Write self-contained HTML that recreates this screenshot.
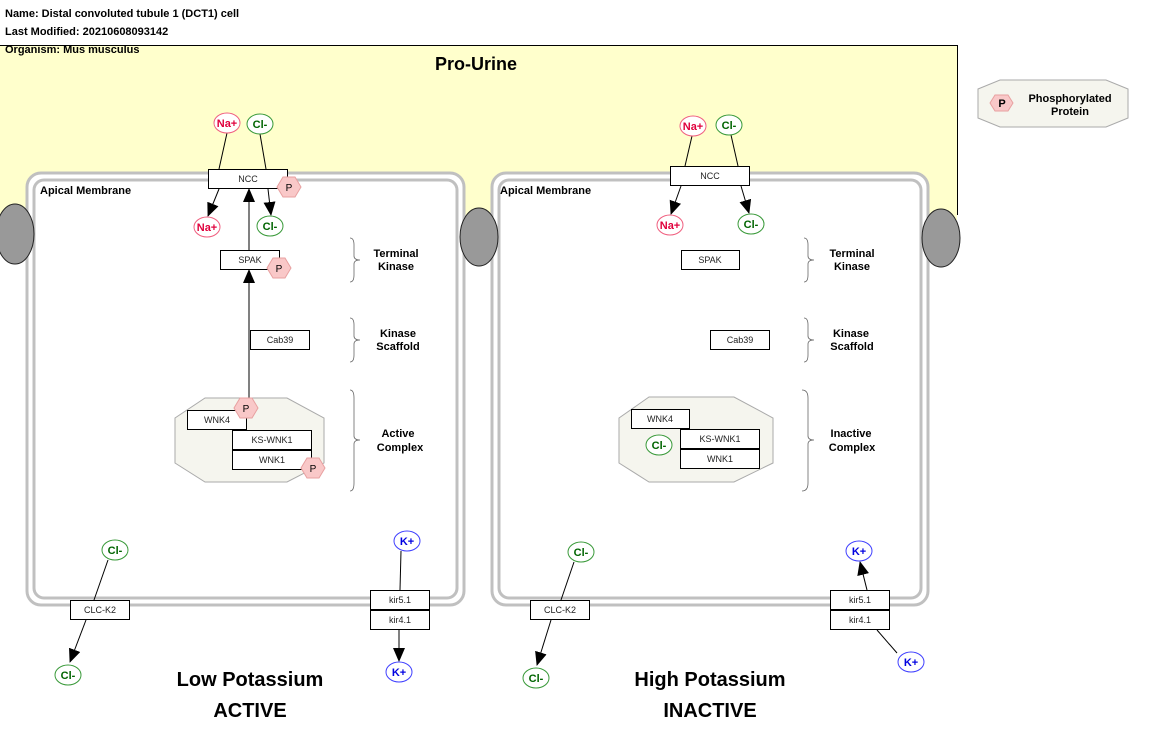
<!DOCTYPE html>
<html><head><meta charset="utf-8"><style>
html,body{margin:0;padding:0;background:#fff;}
svg{display:block;font-family:"Liberation Sans",sans-serif;}
.b{fill:#fff;stroke:#000;stroke-width:1}
.bt{font-size:9px;text-anchor:middle;fill:#222}
.lbl{font-size:11px;font-weight:bold;text-anchor:middle;fill:#000}
.na{fill:#fff;stroke:#f06080;stroke-width:1}
.nat{font-size:11px;font-weight:bold;fill:#e0003c;text-anchor:middle}
.cl{fill:#fff;stroke:#3a9a3a;stroke-width:1}
.clt{font-size:11px;font-weight:bold;fill:#006400;text-anchor:middle}
.k{fill:#fff;stroke:#4040ff;stroke-width:1}
.kt{font-size:11px;font-weight:bold;fill:#0000e0;text-anchor:middle}
.ph{fill:#f9c8c8;stroke:#e8a0a0;stroke-width:1}
.pt{font-size:10px;text-anchor:middle;fill:#000}
.ln{stroke:#000;stroke-width:1;fill:none}
.br{stroke:#666;stroke-width:0.8;fill:none}
</style></head><body>
<svg width="1159" height="753" viewBox="0 0 1159 753" xmlns="http://www.w3.org/2000/svg">
<defs>
<marker id="ar2" markerWidth="14" markerHeight="12" refX="13" refY="6" orient="auto" markerUnits="userSpaceOnUse">
<path d="M0,0 L14,6 L0,12 z" fill="#000"/></marker>
</defs>
<text x="5" y="17" font-size="11" font-weight="bold">Name: Distal convoluted tubule 1 (DCT1) cell</text>
<text x="5" y="35" font-size="11" font-weight="bold">Last Modified: 20210608093142</text>
<rect x="0" y="45" width="957" height="175" fill="#ffffcc"/>
<line x1="0" y1="45.5" x2="957" y2="45.5" stroke="#000"/>
<line x1="957.5" y1="45" x2="957.5" y2="215" stroke="#000"/>
<text x="5" y="53" font-size="11" font-weight="bold">Organism: Mus musculus</text>
<text x="476" y="70" font-size="18" font-weight="bold" text-anchor="middle">Pro-Urine</text>

<rect x="27" y="173" width="437" height="432" rx="14" fill="#fff" stroke="#c0c0c0" stroke-width="3"/>
<rect x="34" y="180" width="423" height="418" rx="10" fill="none" stroke="#c0c0c0" stroke-width="3"/>
<rect x="492" y="173" width="436" height="432" rx="14" fill="#fff" stroke="#c0c0c0" stroke-width="3"/>
<rect x="499" y="180" width="422" height="418" rx="10" fill="none" stroke="#c0c0c0" stroke-width="3"/>
<ellipse cx="15" cy="234" rx="19" ry="30" fill="#999" stroke="#222"/>
<ellipse cx="479" cy="237" rx="19" ry="29" fill="#999" stroke="#222"/>
<ellipse cx="941" cy="238" rx="19" ry="29" fill="#999" stroke="#222"/>
<text x="40" y="194" font-size="11" font-weight="bold">Apical Membrane</text>
<text x="500" y="194" font-size="11" font-weight="bold">Apical Membrane</text>

<polygon points="1000,80 1106,80 1128,89 1128,118 1106,127 1000,127 978,118 978,89" fill="#f5f5ee" stroke="#aaa"/>
<polygon points="990,103 995,95 1008,95 1013,103 1008,111 995,111" class="ph"/>
<text x="1002" y="107" font-size="11" font-weight="bold" text-anchor="middle">P</text>
<text x="1070" y="102" class="lbl">Phosphorylated</text>
<text x="1070" y="115" class="lbl">Protein</text>

<line x1="227" y1="133" x2="219" y2="169" class="ln"/>
<line x1="260" y1="134" x2="266" y2="169" class="ln"/>
<ellipse cx="227" cy="123" rx="13" ry="10" class="na"/><text x="227" y="127" class="nat">Na+</text>
<ellipse cx="260" cy="124" rx="13" ry="10" class="cl"/><text x="260" y="128" class="clt">Cl-</text>
<rect x="208.5" y="169.5" width="79" height="19" class="b"/><text x="248" y="182" class="bt">NCC</text>
<polygon points="277,187 283,177 295,177 301,187 295,197 283,197" class="ph"/><text x="289" y="191" class="pt">P</text>
<line x1="219" y1="189" x2="208" y2="216" class="ln" marker-end="url(#ar2)"/>
<line x1="268" y1="189" x2="271" y2="215" class="ln" marker-end="url(#ar2)"/>
<ellipse cx="207" cy="227" rx="13" ry="10" class="na"/><text x="207" y="231" class="nat">Na+</text>
<ellipse cx="270" cy="226" rx="13" ry="10" class="cl"/><text x="270" y="230" class="clt">Cl-</text>
<line x1="249" y1="250" x2="249" y2="189" class="ln" marker-end="url(#ar2)"/>
<rect x="220.5" y="250.5" width="59" height="19" class="b"/><text x="250" y="263" class="bt">SPAK</text>
<polygon points="267,268 273,258 285,258 291,268 285,278 273,278" class="ph"/><text x="279" y="272" class="pt">P</text>
<line x1="249" y1="400" x2="249" y2="270" class="ln" marker-end="url(#ar2)"/>
<rect x="250.5" y="330.5" width="59" height="19" class="b"/><text x="280" y="343" class="bt">Cab39</text>
<polygon points="205,398 287,398 324,418 324,463 287,482 205,482 175,463 175,418" fill="#f5f5ee" stroke="#aaa"/>
<rect x="187.5" y="410.5" width="59" height="19" class="b"/><text x="217" y="423" class="bt">WNK4</text>
<polygon points="234,408 240,398 252,398 258,408 252,418 240,418" class="ph"/><text x="246" y="412" class="pt">P</text>
<rect x="232.5" y="430.5" width="79" height="19" class="b"/><text x="272" y="443" class="bt">KS-WNK1</text>
<rect x="232.5" y="450.5" width="79" height="19" class="b"/><text x="272" y="463" class="bt">WNK1</text>
<polygon points="301,468 307,458 319,458 325,468 319,478 307,478" class="ph"/><text x="313" y="472" class="pt">P</text>
<path class="br" d="M350,238 Q354,238 354,245 L354,256 Q354,260 360,260 Q354,260 354,264 L354,275 Q354,282 350,282"/>
<path class="br" d="M350,318 Q354,318 354,325 L354,336 Q354,340 360,340 Q354,340 354,344 L354,355 Q354,362 350,362"/>
<path class="br" d="M350,390 Q354,390 354,398 L354,436 Q354,440 360,440 Q354,440 354,444 L354,483 Q354,491 350,491"/>
<text x="396" y="257" class="lbl">Terminal</text><text x="396" y="270" class="lbl">Kinase</text>
<text x="398" y="337" class="lbl">Kinase</text><text x="398" y="350" class="lbl">Scaffold</text>
<text x="398" y="437" class="lbl">Active</text><text x="400" y="451" class="lbl">Complex</text>
<line x1="108" y1="560" x2="94" y2="600" class="ln"/>
<line x1="86" y1="620" x2="70" y2="662" class="ln" marker-end="url(#ar2)"/>
<ellipse cx="115" cy="550" rx="13" ry="10" class="cl"/><text x="115" y="554" class="clt">Cl-</text>
<rect x="70.5" y="600.5" width="59" height="19" class="b"/><text x="100" y="613" class="bt">CLC-K2</text>
<ellipse cx="68" cy="675" rx="13" ry="10" class="cl"/><text x="68" y="679" class="clt">Cl-</text>
<line x1="401" y1="551" x2="400" y2="590" class="ln"/>
<line x1="399" y1="630" x2="399" y2="661" class="ln" marker-end="url(#ar2)"/>
<ellipse cx="407" cy="541" rx="13" ry="10" class="k"/><text x="407" y="545" class="kt">K+</text>
<rect x="370.5" y="590.5" width="59" height="19" class="b"/><text x="400" y="603" class="bt">kir5.1</text>
<rect x="370.5" y="610.5" width="59" height="19" class="b"/><text x="400" y="623" class="bt">kir4.1</text>
<ellipse cx="399" cy="672" rx="13" ry="10" class="k"/><text x="399" y="676" class="kt">K+</text>
<text x="250" y="686" font-size="20" font-weight="bold" text-anchor="middle">Low Potassium</text>
<text x="250" y="717" font-size="20" font-weight="bold" text-anchor="middle">ACTIVE</text>

<line x1="692" y1="136" x2="685" y2="166" class="ln"/>
<line x1="731" y1="135" x2="738" y2="166" class="ln"/>
<ellipse cx="693" cy="126" rx="13" ry="10" class="na"/><text x="693" y="130" class="nat">Na+</text>
<ellipse cx="729" cy="125" rx="13" ry="10" class="cl"/><text x="729" y="129" class="clt">Cl-</text>
<rect x="670.5" y="166.5" width="79" height="19" class="b"/><text x="710" y="179" class="bt">NCC</text>
<line x1="681" y1="186" x2="671" y2="214" class="ln" marker-end="url(#ar2)"/>
<line x1="741" y1="186" x2="749" y2="213" class="ln" marker-end="url(#ar2)"/>
<ellipse cx="670" cy="225" rx="13" ry="10" class="na"/><text x="670" y="229" class="nat">Na+</text>
<ellipse cx="751" cy="224" rx="13" ry="10" class="cl"/><text x="751" y="228" class="clt">Cl-</text>
<rect x="681.5" y="250.5" width="58" height="19" class="b"/><text x="710" y="263" class="bt">SPAK</text>
<rect x="710.5" y="330.5" width="59" height="19" class="b"/><text x="740" y="343" class="bt">Cab39</text>
<polygon points="649,397 734,397 773,418 773,463 734,482 649,482 619,463 619,418" fill="#f5f5ee" stroke="#aaa"/>
<rect x="631.5" y="409.5" width="58" height="19" class="b"/><text x="660" y="422" class="bt">WNK4</text>
<ellipse cx="659" cy="445" rx="13" ry="10" class="cl"/><text x="659" y="449" class="clt">Cl-</text>
<rect x="680.5" y="429.5" width="79" height="19" class="b"/><text x="720" y="442" class="bt">KS-WNK1</text>
<rect x="680.5" y="449.5" width="79" height="19" class="b"/><text x="720" y="462" class="bt">WNK1</text>
<path class="br" d="M804,238 Q808,238 808,245 L808,256 Q808,260 814,260 Q808,260 808,264 L808,275 Q808,282 804,282"/>
<path class="br" d="M804,318 Q808,318 808,325 L808,336 Q808,340 814,340 Q808,340 808,344 L808,355 Q808,362 804,362"/>
<path class="br" d="M802,390 Q808,390 808,398 L808,436 Q808,440 814,440 Q808,440 808,444 L808,483 Q808,491 802,491"/>
<text x="852" y="257" class="lbl">Terminal</text><text x="852" y="270" class="lbl">Kinase</text>
<text x="851" y="337" class="lbl">Kinase</text><text x="852" y="350" class="lbl">Scaffold</text>
<text x="851" y="437" class="lbl">Inactive</text><text x="852" y="451" class="lbl">Complex</text>
<line x1="574" y1="562" x2="561" y2="600" class="ln"/>
<line x1="551" y1="620" x2="537" y2="665" class="ln" marker-end="url(#ar2)"/>
<ellipse cx="581" cy="552" rx="13" ry="10" class="cl"/><text x="581" y="556" class="clt">Cl-</text>
<rect x="530.5" y="600.5" width="59" height="19" class="b"/><text x="560" y="613" class="bt">CLC-K2</text>
<ellipse cx="536" cy="678" rx="13" ry="10" class="cl"/><text x="536" y="682" class="clt">Cl-</text>
<line x1="867" y1="590" x2="860" y2="562" class="ln" marker-end="url(#ar2)"/>
<line x1="897" y1="653" x2="877" y2="630" class="ln"/>
<ellipse cx="859" cy="551" rx="13" ry="10" class="k"/><text x="859" y="555" class="kt">K+</text>
<rect x="830.5" y="590.5" width="59" height="19" class="b"/><text x="860" y="603" class="bt">kir5.1</text>
<rect x="830.5" y="610.5" width="59" height="19" class="b"/><text x="860" y="623" class="bt">kir4.1</text>
<ellipse cx="911" cy="662" rx="13" ry="10" class="k"/><text x="911" y="666" class="kt">K+</text>
<text x="710" y="686" font-size="20" font-weight="bold" text-anchor="middle">High Potassium</text>
<text x="710" y="717" font-size="20" font-weight="bold" text-anchor="middle">INACTIVE</text>
</svg>
</body></html>
